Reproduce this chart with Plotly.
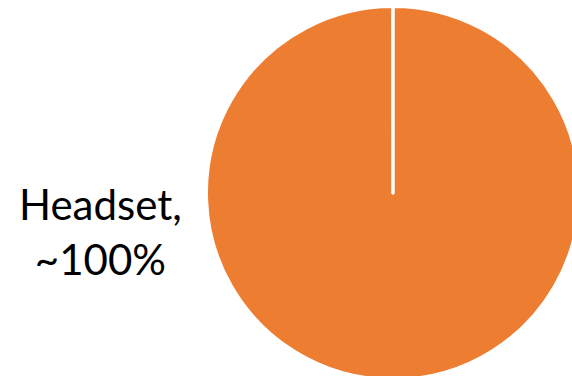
import plotly.graph_objects as go

labels = ["Headset", "Other"]
values = [99.99, 0.01]
label_text = ["~100%", ""]
colors = ["#ED7D31", "#ED7D31"]

W, H = 600, 400
cx, cy, r = 393, 193, 186.5

fig = go.Figure()
fig.add_trace(go.Pie(
    labels=labels,
    values=values,
    sort=False,
    direction="clockwise",
    rotation=0,
    marker=dict(colors=colors, line=dict(color="white", width=3)),
    textinfo="none",
    hoverinfo="label+percent",
    showlegend=False,
    domain=dict(x=[(cx - r) / W, (cx + r) / W], y=[1 - (cy + r) / H, 1 - (cy - r) / H]),
))

fig.add_annotation(
    text=f"{labels[0]},<br>{label_text[0]}",
    xref="paper", yref="paper",
    x=100 / W, y=1 - 231 / H,
    xanchor="center", yanchor="middle",
    showarrow=False,
    font=dict(family="Lato", size=42, color="black"),
)

fig.update_layout(
    width=W, height=H,
    margin=dict(l=0, r=0, t=0, b=0),
    paper_bgcolor="white",
    plot_bgcolor="white",
)

fig.write_html(
    "out.html",
    config={"displayModeBar": False},
    post_script="document.body.style.margin='0';document.body.style.overflow='hidden';",
)
